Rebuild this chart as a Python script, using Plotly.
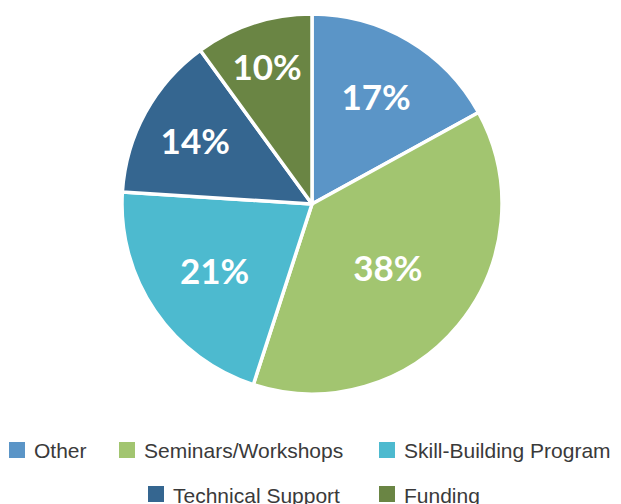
import plotly.graph_objects as go

categories = ["Other", "Seminars/Workshops", "Skill-Building Program", "Technical Support", "Funding"]
values = [17, 38, 21, 14, 10]
colors = ["#5b95c7", "#a2c570", "#4dbacf", "#356690", "#6a8544"]

W, H = 621, 504
OFF = 8  # page body margin offset
ML, MR, MT, MB = 0, 13, 6, 118
PW, PH = W - ML - MR, H - MT - MB

def px_x(x):
    return (x - OFF - ML) / PW

def px_y(y):
    return (H - MB - (y - OFF)) / PH

fig = go.Figure(go.Pie(
    labels=categories,
    values=values,
    sort=False,
    direction="clockwise",
    rotation=0,
    marker=dict(colors=colors, line=dict(color="white", width=3.5)),
    texttemplate="%{percent:.0%}",
    textposition="inside",
    insidetextorientation="horizontal",
    insidetextfont=dict(family="Lato", size=35, color="white", weight="bold"),
    domain=dict(x=[0, 1], y=[0, 1]),
    showlegend=False,
    automargin=False,
))

# legend layout (reference pixel positions of squares per row)
legend_rows = [[0, 1, 2], [3, 4]]
row_centers = [450, 494]
square_x = [[9, 119, 379], [148, 379]]
SQ = 16
shapes, annotations = [], []
for r, idxs in enumerate(legend_rows):
    cy = row_centers[r]
    for k, i in enumerate(idxs):
        sx = square_x[r][k]
        shapes.append(dict(
            type="rect", xref="paper", yref="paper",
            x0=px_x(sx), x1=px_x(sx + SQ), y0=px_y(cy - SQ / 2), y1=px_y(cy + SQ / 2),
            fillcolor=colors[i], line=dict(width=0),
        ))
        annotations.append(dict(
            xref="paper", yref="paper", x=px_x(sx + 23), y=px_y(cy + 1),
            xanchor="left", yanchor="middle", showarrow=False,
            text=categories[i],
            font=dict(family="Liberation Sans, Arial", size=21, color="#3a3a3a"),
        ))

fig.update_layout(
    width=W, height=H,
    margin=dict(l=ML, r=MR, t=MT, b=MB),
    paper_bgcolor="white",
    plot_bgcolor="white",
    showlegend=False,
    shapes=shapes,
    annotations=annotations,
    uniformtext=dict(minsize=10, mode="show"),
)

fig.write_html("out.html")
